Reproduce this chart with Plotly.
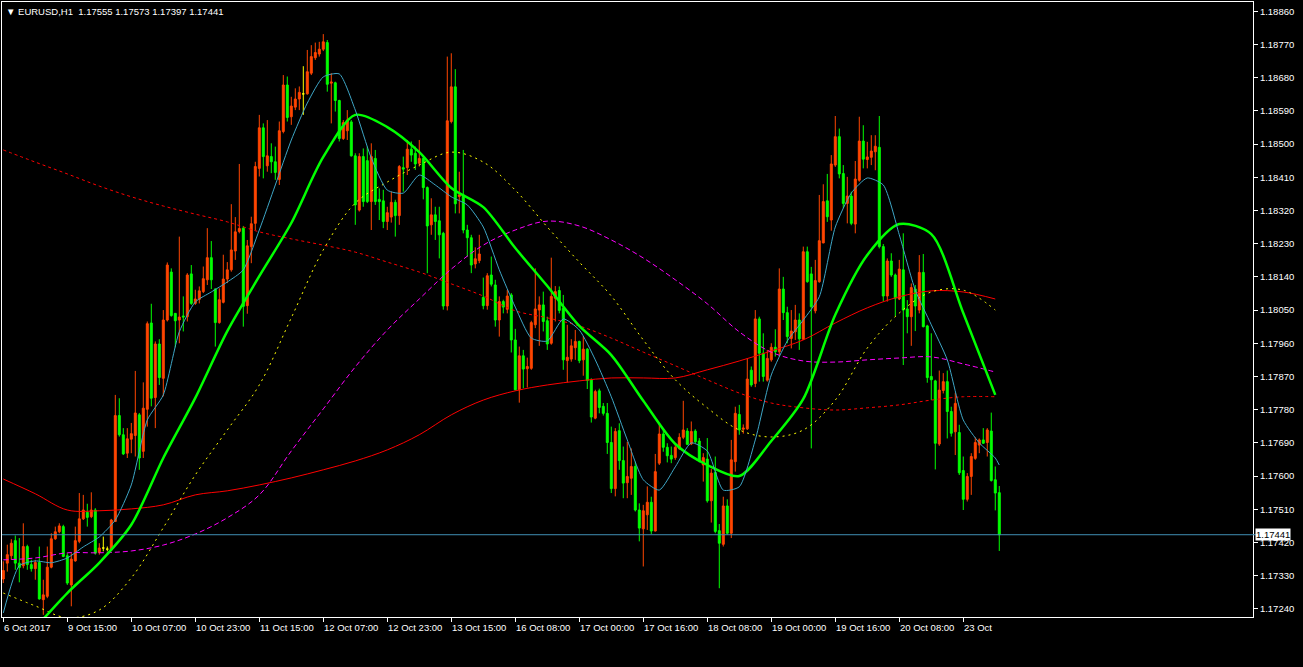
import plotly.graph_objects as go

# ---------------- data (EURUSD H1, bar index 0 = 6 Oct 2017 22:00) ----------------
opens = [1.17321,1.17364,1.17384,1.17425,1.17364,1.17357,1.17409,1.17360,1.17349,1.17366,
1.17265,1.17274,1.17353,1.17430,1.17449,1.17463,1.17384,1.17305,1.17370,1.17423,
1.17484,1.17502,1.17490,1.17508,1.17393,1.17405,1.17402,1.17400,1.17477,1.17764,
1.17712,1.17662,1.17700,1.17710,1.17766,1.17667,1.17781,1.18015,1.17813,1.17958,
1.17865,1.18023,1.18153,1.18041,1.18023,1.18034,1.18032,1.18148,1.18068,1.18079,
1.18100,1.18132,1.18192,1.18107,1.18016,1.18071,1.18134,1.18159,1.18210,1.18263,
1.18272,1.18062,1.18222,1.18285,1.18434,1.18544,1.18441,1.18466,1.18452,1.18404,
1.18534,1.18660,1.18574,1.18600,1.18622,1.18636,1.18636,1.18692,1.18734,1.18744,
1.18757,1.18775,1.18665,1.18666,1.18618,1.18515,1.18536,1.18560,1.18468,1.18321,
1.18466,1.18455,1.18344,1.18461,1.18350,1.18346,1.18290,1.18302,1.18342,1.18306,
1.18436,1.18436,1.18486,1.18475,1.18448,1.18461,1.18382,1.18281,1.18308,1.18292,
1.18258,1.18061,1.18561,1.18655,1.18358,1.18362,1.18267,1.18246,1.18175,1.18184,
1.18084,1.18062,1.18145,1.18118,1.18023,1.18073,1.18052,1.18091,1.17969,1.17834,
1.17926,1.17891,1.17892,1.18010,1.18050,1.18064,1.18021,1.17960,1.18082,1.18103,
1.18055,1.17913,1.17917,1.17948,1.17965,1.17915,1.17944,1.17861,1.17757,1.17831,
1.17789,1.17770,1.17691,1.17566,1.17723,1.17642,1.17582,1.17594,1.17626,1.17508,
1.17457,1.17495,1.17529,1.17451,1.17635,1.17714,1.17678,1.17656,1.17650,1.17675,
1.17705,1.17722,1.17687,1.17722,1.17695,1.17630,1.17646,1.17533,1.17610,1.17452,
1.17415,1.17519,1.17445,1.17639,1.17767,1.17727,1.17728,1.17887,1.17851,1.18026,
1.17933,1.17860,1.17915,1.17949,1.17937,1.18107,1.18043,1.17973,1.17991,1.18023,
1.17971,1.18208,1.18148,1.18048,1.18127,1.18232,1.18346,1.18294,1.18443,1.18520,
1.18420,1.18339,1.18359,1.18283,1.18402,1.18508,1.18458,1.18464,1.18479,1.18491,
1.18222,1.18088,1.18183,1.18145,1.18080,1.18159,1.18053,1.18032,1.18107,1.18050,
1.18152,1.18007,1.17870,1.17858,1.17687,1.17832,1.17856,1.17775,1.17720,1.17718,
1.17615,1.17537,1.17599,1.17648,1.17684,1.17698,1.17691,1.17722,1.17590,1.17555]

highs = [1.17369,1.17414,1.17429,1.17439,1.17432,1.17472,1.17414,1.17373,1.17373,1.17409,
1.17319,1.17409,1.17445,1.17463,1.17472,1.17468,1.17391,1.17391,1.17463,1.17554,
1.17549,1.17525,1.17556,1.17513,1.17418,1.17436,1.17409,1.17484,1.17820,1.17811,
1.17730,1.17730,1.17744,1.17885,1.17771,1.17854,1.18019,1.18067,1.17965,1.17971,
1.18050,1.18179,1.18163,1.18042,1.18249,1.18087,1.18150,1.18172,1.18105,1.18114,
1.18168,1.18272,1.18237,1.18109,1.18109,1.18200,1.18180,1.18337,1.18302,1.18446,
1.18278,1.18240,1.18303,1.18452,1.18579,1.18556,1.18565,1.18502,1.18493,1.18561,
1.18687,1.18683,1.18628,1.18651,1.18656,1.18711,1.18755,1.18768,1.18775,1.18777,
1.18798,1.18782,1.18692,1.18669,1.18620,1.18565,1.18592,1.18565,1.18475,1.18475,
1.18488,1.18493,1.18502,1.18484,1.18380,1.18376,1.18330,1.18371,1.18349,1.18443,
1.18466,1.18511,1.18507,1.18493,1.18511,1.18466,1.18385,1.18353,1.18330,1.18330,
1.18262,1.18737,1.18746,1.18703,1.18425,1.18484,1.18281,1.18254,1.18220,1.18254,
1.18138,1.18150,1.18195,1.18132,1.18087,1.18078,1.18105,1.18096,1.17999,1.17951,
1.17942,1.17921,1.18021,1.18163,1.18087,1.18100,1.18032,1.18192,1.18115,1.18114,
1.18091,1.18010,1.17971,1.17996,1.17967,1.17980,1.17947,1.17865,1.17834,1.17837,
1.17798,1.17798,1.17734,1.17730,1.17743,1.17680,1.17693,1.17675,1.17639,1.17526,
1.17522,1.17572,1.17544,1.17660,1.17741,1.17725,1.17689,1.17680,1.17684,1.17716,
1.17804,1.17730,1.17748,1.17727,1.17703,1.17662,1.17703,1.17619,1.17653,1.17470,
1.17544,1.17537,1.17698,1.17788,1.17793,1.17740,1.17919,1.17897,1.18050,1.18032,
1.17987,1.17942,1.17960,1.17998,1.18163,1.18140,1.18059,1.18050,1.18064,1.18041,
1.18222,1.18222,1.18167,1.18186,1.18362,1.18391,1.18419,1.18470,1.18576,1.18542,
1.18443,1.18411,1.18371,1.18454,1.18574,1.18551,1.18506,1.18524,1.18524,1.18576,
1.18229,1.18190,1.18204,1.18149,1.18186,1.18258,1.18077,1.18122,1.18118,1.18199,
1.18202,1.18010,1.17987,1.17861,1.17886,1.17879,1.17886,1.17788,1.17826,1.17739,
1.17653,1.17608,1.17662,1.17705,1.17702,1.17730,1.17730,1.17772,1.17626,1.17573]

lows = [1.17310,1.17341,1.17373,1.17346,1.17312,1.17350,1.17346,1.17341,1.17319,1.17265,
1.17224,1.17269,1.17350,1.17427,1.17445,1.17380,1.17305,1.17247,1.17368,1.17418,
1.17481,1.17463,1.17486,1.17387,1.17387,1.17396,1.17396,1.17398,1.17477,1.17707,
1.17657,1.17649,1.17662,1.17653,1.17617,1.17649,1.17734,1.17789,1.17730,1.17847,
1.17816,1.18019,1.18032,1.17949,1.17960,1.17992,1.18019,1.18064,1.18064,1.18068,
1.18096,1.18118,1.18107,1.17951,1.18013,1.18068,1.18123,1.18154,1.18186,1.18258,
1.18005,1.18040,1.18177,1.18267,1.18412,1.18407,1.18425,1.18421,1.18403,1.18389,
1.18529,1.18561,1.18552,1.18592,1.18592,1.18579,1.18634,1.18687,1.18728,1.18737,
1.18752,1.18642,1.18556,1.18588,1.18507,1.18511,1.18511,1.18466,1.18281,1.18317,
1.18330,1.18340,1.18267,1.18335,1.18294,1.18272,1.18267,1.18287,1.18249,1.18281,
1.18371,1.18416,1.18452,1.18430,1.18439,1.18350,1.18150,1.18254,1.18240,1.18190,
1.18051,1.18049,1.18556,1.18312,1.18312,1.18258,1.18195,1.18150,1.18163,1.18177,
1.18052,1.18051,1.18114,1.18005,1.17978,1.18041,1.18041,1.17935,1.17832,1.17799,
1.17838,1.17840,1.17888,1.18001,1.17953,1.17992,1.17942,1.17956,1.18019,1.18041,
1.17888,1.17854,1.17910,1.17915,1.17906,1.17872,1.17836,1.17745,1.17754,1.17770,
1.17764,1.17660,1.17554,1.17545,1.17617,1.17540,1.17540,1.17549,1.17504,1.17423,
1.17355,1.17454,1.17443,1.17450,1.17630,1.17666,1.17637,1.17635,1.17644,1.17671,
1.17700,1.17684,1.17684,1.17689,1.17637,1.17585,1.17528,1.17474,1.17445,1.17296,
1.17409,1.17441,1.17432,1.17612,1.17712,1.17715,1.17725,1.17842,1.17841,1.17856,
1.17856,1.17856,1.17910,1.17924,1.17924,1.18023,1.17960,1.17946,1.17969,1.17942,
1.17969,1.18124,1.17675,1.18041,1.18124,1.18231,1.18289,1.18265,1.18438,1.18407,
1.18326,1.18285,1.18280,1.18258,1.18398,1.18434,1.18434,1.18443,1.18429,1.18217,
1.18073,1.18073,1.18140,1.18034,1.18077,1.17901,1.17987,1.17953,1.17993,1.18041,
1.18003,1.17853,1.17806,1.17618,1.17682,1.17824,1.17702,1.17707,1.17657,1.17603,
1.17508,1.17531,1.17549,1.17644,1.17662,1.17687,1.17653,1.17585,1.17507,1.17397]

closes = [1.17344,1.17387,1.17418,1.17364,1.17352,1.17409,1.17360,1.17349,1.17366,1.17267,
1.17278,1.17353,1.17430,1.17449,1.17465,1.17382,1.17310,1.17375,1.17425,1.17484,
1.17508,1.17488,1.17508,1.17391,1.17405,1.17405,1.17402,1.17481,1.17764,1.17712,
1.17660,1.17701,1.17715,1.17771,1.17649,1.17784,1.18013,1.17811,1.17958,1.17867,
1.18023,1.18172,1.18035,1.18021,1.18031,1.18031,1.18145,1.18068,1.18080,1.18102,
1.18135,1.18192,1.18132,1.18016,1.18078,1.18134,1.18159,1.18213,1.18262,1.18271,
1.18060,1.18224,1.18284,1.18439,1.18544,1.18466,1.18468,1.18452,1.18423,1.18536,
1.18660,1.18572,1.18603,1.18622,1.18640,1.18636,1.18696,1.18737,1.18748,1.18757,
1.18777,1.18662,1.18668,1.18618,1.18515,1.18558,1.18565,1.18468,1.18335,1.18466,
1.18344,1.18344,1.18466,1.18344,1.18344,1.18290,1.18314,1.18342,1.18306,1.18439,
1.18432,1.18486,1.18470,1.18446,1.18461,1.18382,1.18278,1.18308,1.18290,1.18254,
1.18061,1.18563,1.18655,1.18338,1.18362,1.18267,1.18246,1.18172,1.18189,1.18202,
1.18062,1.18143,1.18120,1.18023,1.18073,1.18058,1.18088,1.17969,1.17834,1.17926,
1.17890,1.17897,1.18016,1.18053,1.18064,1.18019,1.17958,1.18087,1.18100,1.18049,
1.17915,1.17922,1.17953,1.17965,1.17913,1.17944,1.17859,1.17760,1.17829,1.17786,
1.17770,1.17691,1.17566,1.17721,1.17642,1.17581,1.17599,1.17626,1.17508,1.17459,
1.17506,1.17529,1.17451,1.17612,1.17714,1.17678,1.17655,1.17646,1.17678,1.17705,
1.17725,1.17686,1.17721,1.17693,1.17641,1.17650,1.17533,1.17608,1.17450,1.17418,
1.17519,1.17445,1.17644,1.17770,1.17725,1.17730,1.17863,1.17847,1.18026,1.17933,
1.17870,1.17919,1.17949,1.17937,1.18107,1.18043,1.17978,1.17993,1.18023,1.17972,
1.18208,1.18127,1.18059,1.18130,1.18238,1.18344,1.18303,1.18446,1.18520,1.18419,
1.18339,1.18359,1.18285,1.18405,1.18508,1.18459,1.18465,1.18481,1.18494,1.18222,
1.18088,1.18183,1.18145,1.18082,1.18161,1.18050,1.18032,1.18111,1.18061,1.18152,
1.18005,1.17867,1.17861,1.17689,1.17833,1.17856,1.17775,1.17716,1.17797,1.17609,
1.17537,1.17599,1.17653,1.17691,1.17698,1.17689,1.17725,1.17588,1.17554,1.17441]

# time-axis labels every 16 bars
tick_bars = [0, 16, 32, 48, 64, 80, 96, 112, 128, 144, 160, 176, 192, 208, 224, 240]
tick_labels = ["6 Oct 2017", "9 Oct 15:00", "10 Oct 07:00", "10 Oct 23:00", "11 Oct 15:00",
               "12 Oct 07:00", "12 Oct 23:00", "13 Oct 15:00", "16 Oct 08:00", "17 Oct 00:00",
               "17 Oct 16:00", "18 Oct 08:00", "19 Oct 00:00", "19 Oct 16:00", "20 Oct 08:00",
               "23 Oct"]

# price-axis labels
price_ticks = [1.17240, 1.17330, 1.17420, 1.17510, 1.17600, 1.17690, 1.17780, 1.17870, 1.17960,
               1.18050, 1.18140, 1.18230, 1.18320, 1.18410, 1.18500, 1.18590, 1.18680, 1.18770,
               1.18860]

# moving averages
ma_fast_bars = list(range(0, 249, 4)) + [249]
ma_fast = [1.17229,1.17357,1.17370,1.17365,1.17378,1.17408,1.17435,1.17481,1.17576,1.17752,
1.17820,1.17991,1.18072,1.18099,1.18126,1.18159,1.18267,1.18389,1.18511,1.18611,
1.18682,1.18690,1.18592,1.18462,1.18375,1.18367,1.18416,1.18389,1.18357,1.18335,
1.18275,1.18159,1.18058,1.17974,1.17966,1.18026,1.17996,1.17915,1.17815,1.17698,
1.17590,1.17562,1.17625,1.17690,1.17668,1.17562,1.17571,1.17698,1.17874,1.17966,
1.18023,1.18086,1.18275,1.18367,1.18408,1.18389,1.18254,1.18104,1.18010,1.17915,
1.17752,1.17690,1.17649,1.17630]

ma_bars = list(range(0, 249, 8))
ma_green = [1.17096,1.17189,1.17283,1.17365,1.17468,1.17649,1.17812,1.17993,1.18142,1.18286,
1.18465,1.18579,1.18546,1.18478,1.18381,1.18329,1.18218,1.18115,1.18007,1.17928,
1.17804,1.17687,1.17630,1.17600,1.17695,1.17809,1.18037,1.18199,1.18283,1.18256,
1.18042,1.17820]
ma_yellow = [1.17283,1.17248,1.17216,1.17237,1.17324,1.17460,1.17603,1.17725,1.17847,1.18029,
1.18213,1.18340,1.18397,1.18443,1.18478,1.18451,1.18375,1.18275,1.18180,1.18088,
1.17969,1.17861,1.17785,1.17725,1.17706,1.17725,1.17806,1.17947,1.18042,1.18099,
1.18104,1.18050]
ma_magenta = [1.17373,1.17378,1.17392,1.17392,1.17397,1.17413,1.17443,1.17487,1.17549,1.17668,
1.17782,1.17896,1.17996,1.18080,1.18161,1.18226,1.18267,1.18291,1.18278,1.18240,
1.18191,1.18132,1.18067,1.17991,1.17936,1.17912,1.17909,1.17915,1.17920,1.17923,
1.17904,1.17882]
ma_red_dot = [1.18484,1.18451,1.18419,1.18386,1.18357,1.18332,1.18310,1.18289,1.18262,1.18243,
1.18226,1.18207,1.18180,1.18153,1.18121,1.18088,1.18048,1.18029,1.18007,1.17974,
1.17936,1.17899,1.17861,1.17825,1.17798,1.17785,1.17779,1.17785,1.17793,1.17806,
1.17815,1.17815]
ma_red = [1.17592,1.17552,1.17508,1.17506,1.17511,1.17522,1.17549,1.17560,1.17576,1.17595,
1.17617,1.17641,1.17671,1.17712,1.17766,1.17806,1.17831,1.17847,1.17858,1.17866,
1.17866,1.17866,1.17888,1.17912,1.17939,1.17969,1.18015,1.18056,1.18086,1.18102,
1.18099,1.18080]

symbol = "EURUSD,H1"
last_price = closes[-1]

# ---------------- figure ----------------
UP = "#ff4500"
DOWN = "#00ff00"
DOJI = "#ffff00"
FAST = "#3ea6c6"
FONT = "Liberation Sans, Arial"

idx = list(range(len(closes)))
body_idx = [i for i in idx if opens[i] != closes[i]]
doji_idx = [i for i in idx if opens[i] == closes[i]]

fig = go.Figure()

# moving averages (drawn under candles)
fig.add_trace(go.Scatter(x=ma_bars, y=ma_red_dot, mode="lines",
                         line=dict(color="#ff0000", width=1, dash="3px,3px", shape="spline")))
fig.add_trace(go.Scatter(x=ma_bars, y=ma_red, mode="lines",
                         line=dict(color="#ff0000", width=1, shape="spline")))
fig.add_trace(go.Scatter(x=ma_bars, y=ma_magenta, mode="lines",
                         line=dict(color="#ff00ff", width=1, dash="5px,3px", shape="spline")))
fig.add_trace(go.Scatter(x=ma_bars, y=ma_yellow, mode="lines",
                         line=dict(color="#ffff00", width=1, dash="2px,4px", shape="spline")))

def sub(arr, ids):
    return [arr[i] for i in ids]

fig.add_trace(go.Candlestick(
    x=body_idx, open=sub(opens, body_idx), high=sub(highs, body_idx),
    low=sub(lows, body_idx), close=sub(closes, body_idx),
    increasing=dict(line=dict(color=UP, width=1), fillcolor=UP),
    decreasing=dict(line=dict(color=DOWN, width=1), fillcolor=DOWN),
    whiskerwidth=0, hoverinfo="skip"))
fig.add_trace(go.Candlestick(
    x=doji_idx, open=sub(opens, doji_idx), high=sub(highs, doji_idx),
    low=sub(lows, doji_idx), close=sub(closes, doji_idx),
    increasing=dict(line=dict(color=DOJI, width=1), fillcolor=DOJI),
    decreasing=dict(line=dict(color=DOJI, width=1), fillcolor=DOJI),
    whiskerwidth=0, hoverinfo="skip"))

fig.add_trace(go.Scatter(x=ma_bars, y=ma_green, mode="lines",
                         line=dict(color="#00ff00", width=2.5, shape="spline", smoothing=0.8)))
fig.add_trace(go.Scatter(x=ma_fast_bars, y=ma_fast, mode="lines",
                         line=dict(color=FAST, width=1, shape="spline", smoothing=0.6)))

# current price line
fig.add_shape(type="line", xref="paper", x0=0, x1=1.004, yref="y", y0=last_price, y1=last_price,
              line=dict(color="#3f8fb4", width=1), layer="above")

annotations = []
for b, t in zip(tick_bars, tick_labels):
    annotations.append(dict(x=max(b - 0.3, -0.3), xref="x", y=0, yref="paper", yanchor="top",
                            xanchor="left", yshift=-3, text=t, showarrow=False,
                            font=dict(color="white", size=9.5, family=FONT)))
annotations.append(dict(x=0, xref="paper", y=1, yref="paper", xanchor="left", yanchor="top",
                        xshift=2, yshift=-2, showarrow=False,
                        text="\u25bc " + symbol + "\u00a0\u00a0" + " ".join(
                            f"{v:.5f}" for v in (opens[-1], highs[-1], lows[-1], closes[-1])),
                        font=dict(color="white", size=9.5, family=FONT)))
annotations.append(dict(x=1, xref="paper", y=last_price, yref="y", xanchor="left", yanchor="middle",
                        xshift=2, showarrow=False, text=f"{last_price:.5f}", bgcolor="white",
                        borderpad=0, font=dict(color="black", size=9.5, family=FONT)))

fig.update_layout(
    width=1303, height=667,
    paper_bgcolor="black", plot_bgcolor="black",
    margin=dict(l=2, r=50, t=2, b=50),
    showlegend=False,
    hovermode=False,
    annotations=annotations,
    xaxis=dict(range=[-0.325, 312.43], showgrid=False, zeroline=False, rangeslider=dict(visible=False),
               tickmode="array", tickvals=tick_bars, ticktext=[""] * len(tick_bars),
               ticks="outside", ticklen=4, tickcolor="white",
               showline=True, linecolor="white", linewidth=1, mirror=True),
    yaxis=dict(range=[1.17218, 1.18885], side="right", showgrid=False, zeroline=False,
               tickmode="array", tickvals=price_ticks, ticktext=[f"{v:.5f}" for v in price_ticks],
               ticks="outside", ticklen=4, tickcolor="white",
               tickfont=dict(color="white", size=9.5, family=FONT),
               showline=True, linecolor="white", linewidth=1, mirror=True),
)

fig.write_html("out.html",
               config={"displayModeBar": False, "staticPlot": True},
               post_script="document.body.style.margin='0px';"
                           "document.documentElement.style.overflow='hidden';")
